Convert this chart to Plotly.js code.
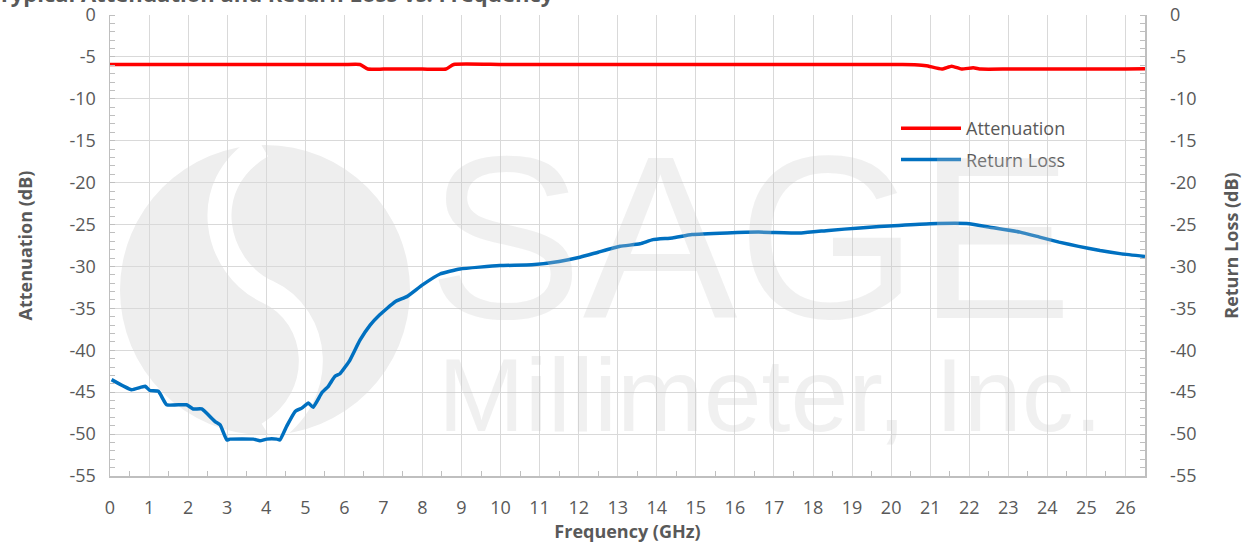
<!DOCTYPE html>
<html>
<head>
<meta charset="utf-8">
<script src="https://cdn.plot.ly/plotly-3.0.1.min.js"></script>
<style>html,body{margin:0;padding:0;background:#fff;}#chart{width:1248px;height:546px;}</style>
</head>
<body>
<div id="chart"></div>
<script>
// Attenuation (dB) vs frequency (GHz)
const attFreq = [0, 1, 2, 3, 4, 5, 6, 6.4, 6.6, 7, 8, 8.6, 8.8, 10, 12, 14, 16, 18, 20, 20.6, 20.9, 21.3, 21.55, 21.8, 22.1, 22.3, 23, 24, 25, 26, 26.5];
const attVals = [-5.9, -5.9, -5.9, -5.9, -5.9, -5.9, -5.9, -5.9, -6.45, -6.45, -6.45, -6.45, -5.9, -5.9, -5.9, -5.9, -5.9, -5.9, -5.9, -5.95, -6.05, -6.45, -6.1, -6.45, -6.3, -6.45, -6.45, -6.45, -6.45, -6.45, -6.4];

// Return loss (dB) vs frequency (GHz)
const rlFreq = [0.04, 0.55, 0.9, 1.02, 1.24, 1.45, 1.96, 2.13, 2.35, 2.69, 2.82, 2.99, 3.07, 3.67, 3.84, 4.01, 4.27, 4.35, 4.52, 4.74, 4.91, 5.08, 5.2, 5.42, 5.59, 5.76, 5.89, 6.02, 6.14, 6.4, 6.66, 6.9, 7.3, 7.6, 8.0, 8.45, 8.96, 9.98, 10.8, 11.5, 12.03, 12.5, 13.06, 13.57, 13.9, 14.4, 14.9, 15.8, 16.6, 17.7, 18.4, 19.2, 20.2, 21.0, 22.0, 22.5, 23.3, 23.8, 24.3, 24.8, 25.35, 25.9, 26.5];
const rlVals = [-43.5, -44.7, -44.3, -44.8, -44.9, -46.5, -46.5, -47.0, -47.0, -48.5, -48.9, -50.7, -50.6, -50.6, -50.8, -50.6, -50.6, -50.7, -49.1, -47.3, -46.9, -46.3, -46.8, -45.1, -44.3, -43.1, -42.8, -42.0, -41.2, -38.8, -37.0, -35.8, -34.2, -33.6, -32.2, -30.9, -30.3, -29.9, -29.8, -29.4, -28.9, -28.3, -27.6, -27.3, -26.8, -26.6, -26.2, -26.0, -25.9, -26.0, -25.7, -25.4, -25.1, -24.9, -24.9, -25.3, -25.9, -26.5, -27.1, -27.6, -28.1, -28.5, -28.8];

// Tick labels (dB), written with a plain hyphen as in the reference
const dbTickVals = [0, -5, -10, -15, -20, -25, -30, -35, -40, -45, -50, -55];
const dbTickText = ["0", "-5", "-10", "-15", "-20", "-25", "-30", "-35", "-40", "-45", "-50", "-55"];

const chartTitle = "Typical Attenuation and Return Loss vs. Frequency";

const FONT = "Open Sans, Noto Sans, sans-serif";
const TXT = "#595959";

// helpers: convert pixel position to paper coordinates (plot area 110..1145 x 15..476)
const L = 110, R = 1145, T = 15, B = 476;
const px = v => (v - L) / (R - L);
const py = v => (B - v) / (B - T);

const traces = [
  {x: attFreq, y: attVals, name: "Attenuation", legendgroup: "a", mode: "lines", line: {color: "#ff0000", width: 3.5, shape: "spline", smoothing: 0.4}, yaxis: "y"},
  {x: rlFreq, y: rlVals, name: "Return Loss", legendgroup: "b", mode: "lines", line: {color: "#0070c0", width: 3.5, shape: "spline", smoothing: 0.4}, yaxis: "y2"}
];

const yCommon = {
  range: [-55, 0], tickmode: "array", tickvals: dbTickVals, ticktext: dbTickText,
  showgrid: true, gridcolor: "#d9d9d9", gridwidth: 1,
  showline: true, linecolor: "#bfbfbf", linewidth: 1.5,
  ticks: "", zeroline: false,
  minor: {dtick: 1, tick0: 0, ticks: "inside", ticklen: 5, tickcolor: "#bfbfbf", showgrid: false},
  tickfont: {family: FONT, size: 18, color: TXT}
};

const S = `M ${px(262)} ${py(146)} C ${px(195)} ${py(185)} ${px(215)} ${py(268)} ${px(268)} ${py(292)} C ${px(320)} ${py(316)} ${px(330)} ${py(395)} ${px(268)} ${py(434)}`;

const layout = {
  width: 1248, height: 546,
  paper_bgcolor: "#ffffff", plot_bgcolor: "rgba(0,0,0,0)",
  margin: {l: L, r: 1248 - R, t: T, b: 546 - B, pad: 0},
  xaxis: {
    range: [0, 26.5], dtick: 1, tick0: 0,
    showgrid: true, gridcolor: "#d9d9d9", gridwidth: 1,
    showline: true, linecolor: "#bfbfbf", linewidth: 1.5, mirror: false,
    ticks: "", zeroline: false, ticklabelstandoff: 15,
    minor: {dtick: 0.5, ticks: "inside", ticklen: 5, tickcolor: "#bfbfbf", showgrid: false},
    tickfont: {family: FONT, size: 18, color: TXT},
    title: {text: "Frequency (GHz)", font: {family: FONT, size: 18, color: TXT, weight: "bold"}, standoff: 4}
  },
  yaxis: Object.assign({}, yCommon, {
    side: "left", ticklabelstandoff: 9,
    title: {text: "Attenuation (dB)", font: {family: FONT, size: 18, color: TXT, weight: "bold"}, standoff: 32}
  }),
  yaxis2: Object.assign({}, yCommon, {
    side: "right", overlaying: "y", showgrid: false, ticklabelstandoff: 20,
    title: {text: "Return Loss (dB)", font: {family: FONT, size: 18, color: TXT, weight: "bold"}, standoff: 30}
  }),
  legend: {x: px(896), y: py(110), xanchor: "left", yanchor: "top", bgcolor: "rgba(0,0,0,0)",
           font: {family: FONT, size: 18, color: TXT}, traceorder: "grouped", tracegroupgap: 5, itemwidth: 60},
  showlegend: true,
  shapes: [
    {type: "circle", xref: "paper", yref: "paper", x0: px(120), x1: px(410), y0: py(435), y1: py(145), fillcolor: "#eeeeee", line: {width: 0}, layer: "below"},
    {type: "path", xref: "paper", yref: "paper", path: S, line: {color: "#ffffff", width: 24}, layer: "below"}
  ],
  annotations: [
    {text: "SAGE", xref: "paper", yref: "paper", x: px(750), y: py(238), xanchor: "center", yanchor: "middle", showarrow: false,
     font: {family: "Liberation Sans, Arial, sans-serif", size: 232, color: "rgba(200,200,200,0.28)"}},
    {text: "Millimeter, Inc.", xref: "paper", yref: "paper", x: px(770), y: py(395), xanchor: "center", yanchor: "middle", showarrow: false,
     font: {family: "Liberation Sans, Arial, sans-serif", size: 104, color: "rgba(200,200,200,0.28)"}},
    {text: "<b>" + chartTitle + "</b>", xref: "paper", yref: "paper", x: px(-4), y: py(10), xanchor: "left", yanchor: "bottom", showarrow: false,
     font: {family: FONT, size: 22, color: TXT}}
  ]
};

Plotly.newPlot("chart", traces, layout, {displayModeBar: false, staticPlot: true});
</script>
</body>
</html>
